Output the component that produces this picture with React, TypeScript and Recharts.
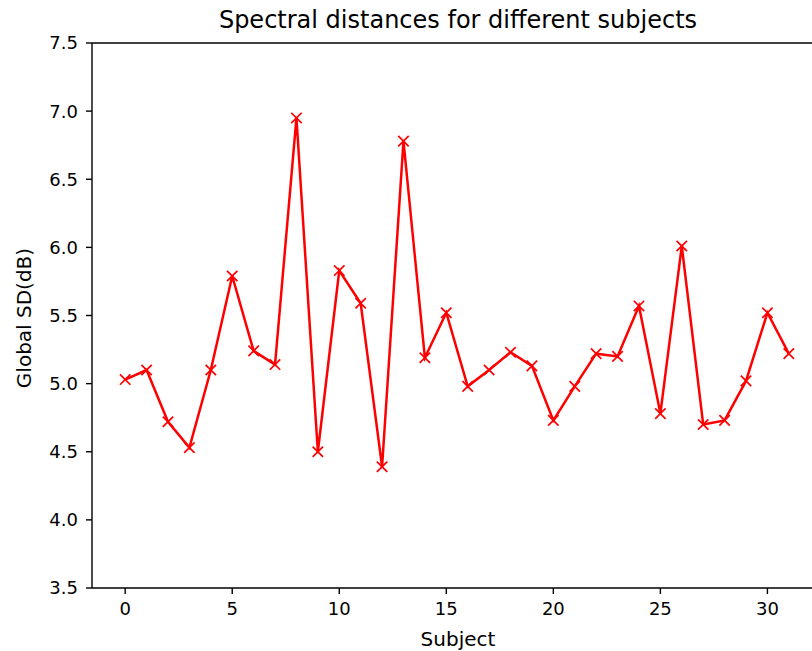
import { LineChart, Line, XAxis, YAxis, ReferenceLine } from 'recharts'

// subject index and global spectral distance (dB)
const subjects = [
  0, 1, 2, 3, 4, 5, 6, 7, 8, 9, 10, 11, 12, 13, 14, 15,
  16, 17, 18, 19, 20, 21, 22, 23, 24, 25, 26, 27, 28, 29, 30, 31,
]
const globalSD = [
  5.03, 5.1, 4.72, 4.53, 5.1, 5.79, 5.24, 5.14, 6.95, 4.5, 5.83, 5.59, 4.39, 6.78, 5.19, 5.52,
  4.98, 5.1, 5.23, 5.13, 4.73, 4.98, 5.22, 5.2, 5.57, 4.78, 6.01, 4.7, 4.73, 5.02, 5.52, 5.22,
]
const xTicks = [0, 5, 10, 15, 20, 25, 30]
const yTicks = [3.5, 4.0, 4.5, 5.0, 5.5, 6.0, 6.5, 7.0, 7.5]

const data = subjects.map((s, i) => ({ subject: s, sd: globalSD[i] }))

const font = 'DejaVu Sans, sans-serif'
const tickStyle = { fontSize: 18, fill: '#000', fontFamily: font }

function XMarker(props: any) {
  const { cx, cy } = props
  if (cx == null || cy == null) return null
  const r = 5.2
  return (
    <g>
      <line x1={cx - r} y1={cy - r} x2={cx + r} y2={cy + r} stroke="#ff0000" strokeWidth={1.7} />
      <line x1={cx - r} y1={cy + r} x2={cx + r} y2={cy - r} stroke="#ff0000" strokeWidth={1.7} />
    </g>
  )
}

export default function App() {
  return (
    <div style={{ position: 'absolute', left: 0, top: 0, width: 812, height: 651, overflow: 'hidden', background: '#fff', fontFamily: font }}>
      {/* title */}
      <div style={{ position: 'absolute', left: 0, width: 916, top: 6, textAlign: 'center', fontSize: 24, color: '#000', whiteSpace: 'nowrap', lineHeight: 'normal' }}>
        Spectral distances for different subjects
      </div>

      <LineChart width={830} height={651} data={data} margin={{ top: 43, right: 8, left: 0, bottom: 30 }}>
        <XAxis
          dataKey="subject"
          type="number"
          domain={[-1.55, 32.55]}
          ticks={xTicks}
          allowDataOverflow
          tick={tickStyle}
          tickSize={6}
          tickMargin={8}
          height={33}
          stroke="#000"
          tickLine={{ stroke: '#000', strokeWidth: 1.4 }}
          axisLine={{ stroke: '#000', strokeWidth: 1.4 }}
        />
        <YAxis
          type="number"
          domain={[3.5, 7.5]}
          ticks={yTicks}
          allowDataOverflow
          width={92}
          tick={tickStyle}
          tickSize={6}
          tickMargin={8}
          tickFormatter={(v: number) => v.toFixed(1)}
          stroke="#000"
          tickLine={{ stroke: '#000', strokeWidth: 1.4 }}
          axisLine={{ stroke: '#000', strokeWidth: 1.4 }}
        />
        <ReferenceLine y={7.5} stroke="#000" strokeWidth={1.4} />
        <Line
          dataKey="sd"
          stroke="#ff0000"
          strokeWidth={2.5}
          dot={<XMarker />}
          activeDot={false}
          isAnimationActive={false}
        />
      </LineChart>

      {/* axis labels */}
      <div style={{ position: 'absolute', left: 0, width: 916, top: 627, textAlign: 'center', fontSize: 20, color: '#000', lineHeight: 'normal' }}>
        Subject
      </div>
      <div
        style={{
          position: 'absolute',
          left: 24,
          top: 318,
          transform: 'translate(-50%, -50%) rotate(-90deg)',
          fontSize: 20,
          color: '#000',
          whiteSpace: 'nowrap',
          lineHeight: 'normal',
        }}
      >
        Global SD(dB)
      </div>
    </div>
  )
}
